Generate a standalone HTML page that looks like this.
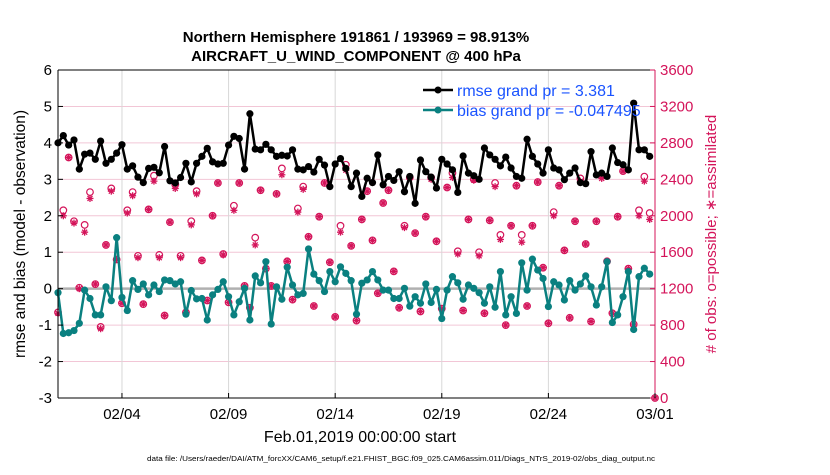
<!DOCTYPE html>
<html><head><meta charset="utf-8"><style>
body{margin:0;background:#fff;width:830px;height:470px;overflow:hidden;font-family:"Liberation Sans",Arial,sans-serif}
svg text{font-family:"Liberation Sans",Arial,sans-serif}
</style></head><body>
<svg id="chart" width="830" height="470" xmlns="http://www.w3.org/2000/svg">
<g id="grid"></g>
<g id="series"></g>
<g id="axes"></g>
<text x="356" y="42" text-anchor="middle" font-size="15" font-weight="bold">Northern Hemisphere 191861 / 193969 = 98.913%</text>
<text x="356" y="61" text-anchor="middle" font-size="15" font-weight="bold">AIRCRAFT_U_WIND_COMPONENT @ 400 hPa</text>
<text transform="translate(25,234) rotate(-90)" text-anchor="middle" font-size="15.5">rmse and bias (model - observation)</text>
<text transform="translate(716,234) rotate(-90)" text-anchor="middle" font-size="15" fill="#d4145a"># of obs: o=possible; ∗=assimilated</text>
<text x="360" y="442" text-anchor="middle" font-size="16">Feb.01,2019 00:00:00 start</text>
<text x="401" y="461" text-anchor="middle" font-size="7.5" textLength="508" lengthAdjust="spacingAndGlyphs">data file: /Users/raeder/DAI/ATM_forcXX/CAM6_setup/f.e21.FHIST_BGC.f09_025.CAM6assim.011/Diags_NTrS_2019-02/obs_diag_output.nc</text>
<g>
<line x1="423" y1="90" x2="453" y2="90" stroke="#000" stroke-width="2.5"/><circle cx="438" cy="90" r="3.5" fill="#000"/>
<text x="457" y="96" font-size="16" fill="#1a53ff">rmse grand pr = 3.381</text>
<line x1="423" y1="110" x2="453" y2="110" stroke="#0a8080" stroke-width="2.5"/><circle cx="438" cy="110" r="3.5" fill="#0a8080"/>
<text x="457" y="116" font-size="16" fill="#1a53ff">bias grand pr = -0.047495</text>
</g>
</svg>
<script>
const rmse=[4.0,4.2,3.94,4.08,3.28,3.69,3.72,3.55,4.05,3.44,3.55,3.72,3.95,3.28,3.37,3.06,2.91,3.3,3.33,3.18,3.9,2.96,2.9,3.05,3.44,2.93,3.44,3.63,3.85,3.48,3.42,3.44,3.94,4.18,4.12,3.28,4.8,3.83,3.81,3.96,3.81,3.63,3.66,3.64,3.81,3.28,3.26,3.35,3.2,3.55,3.39,2.8,3.42,3.57,3.3,2.8,3.17,2.53,
3.03,2.91,3.67,2.85,3.08,2.97,3.21,2.66,3.08,2.34,3.53,3.21,3.06,2.76,3.55,3.42,3.26,2.64,3.64,3.17,3.10,3.00,3.86,3.67,3.55,3.37,3.61,3.31,3.08,3.03,4.10,3.63,3.42,3.17,3.81,3.31,3.26,2.99,3.17,3.31,2.91,2.88,3.76,3.12,3.17,3.08,3.86,3.46,3.40,3.26,5.09,3.81,3.81,3.63];
const bias=[-0.11,-1.23,-1.21,-1.15,-0.95,-0.04,-0.27,-0.72,-0.72,0.05,-0.33,1.40,-0.24,-0.6,0.22,-0.02,0.13,-0.17,0.1,-0.08,0.24,0.22,0.13,0.19,-0.7,-0.05,-0.28,-0.27,-0.86,-0.17,-0.02,0.19,-0.22,-0.72,-0.36,0.01,-0.86,0.35,0.16,0.74,-0.97,0.05,-0.29,0.59,0.1,-0.17,-0.13,1.09,0.4,0.22,-0.08,0.47,0.19,0.6,0.42,0.22,-0.7,
0.15,0.24,0.47,0.24,-0.04,-0.04,-0.27,-0.27,0.01,-0.48,-0.22,-0.40,0.13,-0.38,-0.02,-0.82,-0.04,0.33,0.16,-0.29,0.10,0.01,-0.11,-0.40,0.05,-0.51,0.47,-0.72,-0.22,-0.68,0.71,-0.04,0.81,0.51,0.28,-0.49,0.19,0.10,-0.31,0.22,-0.04,0.13,0.35,0.05,-0.45,0.05,0.74,-0.93,-0.72,-0.22,0.47,-1.12,0.33,0.56,0.40];
const possible=[940,2060,2640,1940,1210,1900,2260,1250,780,1680,2300,1520,1040,2060,2260,1560,1030,2070,2440,1570,905,1930,2340,1560,940,1940,2270,1510,1070,2000,2360,1580,1050,2110,2360,1230,990,1760,2280,1420,1230,2240,2520,1500,1080,2080,2320,1770,1010,1990,2360,1490,890,1890,2560,1670,850,1960,2270,1730,1150,2140,2280,1390,990,1890,2420,1810,950,1990,2420,1720,980,2310,2470,1610,960,1960,2400,1600,930,1950,2360,1790,800,1890,2330,1790,1010,1890,2370,1430,820,2040,2330,1620,880,1940,2410,1690,840,1940,2450,1500,930,1990,2490,1420,810,2060,2430,2030,0];
const assimilated=[930,2000,2640,1920,1200,1820,2190,1250,760,1680,2270,1520,1040,2030,2220,1540,1030,2070,2380,1540,905,1930,2300,1540,940,1900,2240,1510,1070,2000,2360,1570,1050,2060,2360,1230,990,1680,2280,1420,1230,2240,2450,1500,1080,2040,2290,1770,1010,1990,2360,1490,890,1820,2500,1670,850,1960,2270,1730,1150,2140,2280,1390,990,1870,2420,1810,950,1990,2400,1720,980,2310,2420,1580,960,1960,2390,1560,930,1950,2320,1740,800,1890,2330,1710,1010,1890,2370,1430,820,2000,2330,1620,880,1940,2380,1690,840,1940,2410,1500,930,1990,2490,1420,790,2000,2380,1960,0];
const xTickLabels=["02/04","02/09","02/14","02/19","02/24","03/01"];
const xTickDays=[3,8,13,18,23,28];
const yTicksLeft=[-3,-2,-1,0,1,2,3,4,5,6];
const yTicksRight=[0,400,800,1200,1600,2000,2400,2800,3200,3600];

const X0=58,X1=655,Y0=398,Y1=70;
const xs=d=>X0+(d/28)*(X1-X0);
const ys=v=>Y0-(v+3)/9*(Y0-Y1);
const yr=v=>Y0-v/3600*(Y0-Y1);
const NS="http://www.w3.org/2000/svg";
function mk(parent,tag,attrs){const e=document.createElementNS(NS,tag);for(const k in attrs)e.setAttribute(k,attrs[k]);parent.appendChild(e);return e;}
const grid=document.getElementById('grid'),ser=document.getElementById('series'),ax=document.getElementById('axes');
mk(grid,'rect',{x:X0,y:Y1,width:X1-X0,height:Y0-Y1,fill:'#fff'});
yTicksLeft.forEach(v=>{if(v>-3&&v<6&&v!==0){const l=mk(grid,'line',{x1:X0,x2:X1,y1:ys(v),y2:ys(v),stroke:'#f2c6d6','stroke-width':1});

}});
xTickDays.forEach(d=>{const l=mk(grid,'line',{x1:xs(d),x2:xs(d),y1:Y1,y2:Y0,stroke:'#d8d8d8','stroke-width':1});

});
const zl=mk(grid,'line',{x1:X0,x2:X1,y1:ys(0),y2:ys(0),stroke:'#b0b0b0','stroke-width':2.5});



function star(g,cx,cy,r,col){for(let a=0;a<4;a++){const t=a*Math.PI/4;mk(g,'line',{x1:cx-r*Math.cos(t),y1:cy-r*Math.sin(t),x2:cx+r*Math.cos(t),y2:cy+r*Math.sin(t),stroke:col,'stroke-width':1.3});}}
possible.forEach((v,i)=>{const c=mk(ser,'circle',{cx:xs(i/4),cy:yr(v),r:3.3,fill:'none',stroke:'#d4145a','stroke-width':1.2});

});
assimilated.forEach((v,i)=>{const g=mk(ser,'g',{});


star(g,xs(i/4),yr(v),3.5,'#d4145a');});

function line(arr,col,name){const pts=arr.map((v,i)=>xs(i/4)+','+ys(v)).join(' ');
const p=mk(ser,'polyline',{points:pts,fill:'none',stroke:col,'stroke-width':2.5,'stroke-linejoin':'round'});


arr.forEach((v,i)=>{const c=mk(ser,'circle',{cx:xs(i/4),cy:ys(v),r:3.6,fill:col});

});}
line(bias,'#0a8080','bias');
line(rmse,'#000','rmse');

mk(ax,'line',{x1:X0,x2:X0,y1:Y1,y2:Y0,stroke:'#000','stroke-width':1});
mk(ax,'line',{x1:X0,x2:X1,y1:Y0,y2:Y0,stroke:'#000','stroke-width':1});
mk(ax,'line',{x1:X0,x2:X1,y1:Y1,y2:Y1,stroke:'#000','stroke-width':1});
mk(ax,'line',{x1:X1,x2:X1,y1:Y1,y2:Y0,stroke:'#d4145a','stroke-width':1});
yTicksLeft.forEach(v=>{mk(ax,'line',{x1:X0,x2:X0+5,y1:ys(v),y2:ys(v),stroke:'#000'});
const t=mk(ax,'text',{x:X0-6,y:ys(v)+5,'text-anchor':'end','font-size':15});t.textContent=v;

});
yTicksRight.forEach(v=>{mk(ax,'line',{x1:X1-5,x2:X1,y1:yr(v),y2:yr(v),stroke:'#d4145a'});
const t=mk(ax,'text',{x:X1+5,y:yr(v)+5,'font-size':15,fill:'#d4145a'});t.textContent=v;

});
xTickDays.forEach((d,i)=>{mk(ax,'line',{x1:xs(d),x2:xs(d),y1:Y0,y2:Y0-5,stroke:'#000'});
const t=mk(ax,'text',{x:xs(d),y:419,'text-anchor':'middle','font-size':15});t.textContent=xTickLabels[i];

});
</script>
</body></html>
